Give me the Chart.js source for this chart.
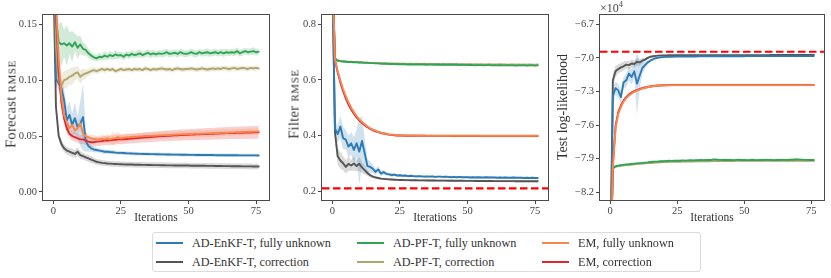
<!DOCTYPE html>
<html>
<head>
<meta charset="utf-8">
<script src="https://cdn.jsdelivr.net/npm/chart.js@4.4.1/dist/chart.umd.min.js"></script>
<style>
html,body{margin:0;padding:0;background:#fff;}
#wrap{position:relative;width:831px;height:278px;overflow:hidden;font-family:'Liberation Serif',serif;}
canvas{position:absolute;top:0;}
.ytitle{position:absolute;white-space:nowrap;transform:translate(-50%,-50%) rotate(-90deg);font-size:14.5px;color:#333;}
.ytitle .sc{font-size:11px;letter-spacing:0.6px;}
#legend{position:absolute;left:152px;top:232px;width:549px;height:40px;border:1px solid #dcdcdc;border-radius:3px;box-sizing:border-box;}
.li{position:absolute;height:2.2px;}
.lt{position:absolute;font-size:12.2px;color:#333;white-space:nowrap;transform:translateY(-50%);}
#sci{position:absolute;left:600px;top:-1px;font-size:12px;color:#444;}
#sci sup{font-size:8.5px;vertical-align:5px;}
</style>
</head>
<body>
<div id="wrap">
<canvas id="c1" width="280" height="225" style="left:0px"></canvas>
<canvas id="c2" width="275" height="225" style="left:280px"></canvas>
<canvas id="c3" width="276" height="225" style="left:555px"></canvas>
<div class="ytitle" style="left:11px;top:104px;letter-spacing:0.3px">Forecast <span class="sc">RMSE</span></div>
<div class="ytitle" style="left:294px;top:104px;letter-spacing:0.3px">Filter <span class="sc">RMSE</span></div>
<div class="ytitle" style="left:563px;top:107px;font-size:14px">Test log-likelihood</div>
<div id="sci">×10<sup>4</sup></div>
<div id="legend"></div>
</div>
<script>
// ---------------- DATA ----------------
const iterations = [0,1,2,3,4,5,6,7,8,9,10,11,12,13,14,15,16,17,18,19,20,21,22,23,24,25,26,27,28,29,30,31,32,33,34,35,36,37,38,39,40,41,42,43,44,45,46,47,48,49,50,51,52,53,54,55,56,57,58,59,60,61,62,63,64,65,66,67,68,69,70,71,72,73,74,75,76];
const seriesNames = ["AD-EnKF-T, fully unknown","AD-EnKF-T, correction","AD-PF-T, fully unknown","AD-PF-T, correction","EM, fully unknown","EM, correction"];
const seriesColors = ["#2c7bb6","#555555","#31a354","#b1a56e","#f6874f","#e3262b"];
const xTicks = [0,25,50,75];
const xTickLabels = ["0","25","50","75"];

// Panel 1: Forecast RMSE
const p1Ticks = [0.00,0.05,0.10,0.15];
const p1TickLabels = ["0.00","0.05","0.10","0.15"];
const p1EnKFFull = [
0.25,0.101,0.097,0.093,0.082,0.064,0.069,0.060,0.066,0.058,
0.061,0.067,0.046,0.041,0.039,0.038,0.0375,0.037,0.0365,0.036,
0.036,0.0357,0.0355,0.0352,0.035,0.035,0.0348,0.0346,0.0345,0.0344,
0.0343,0.0342,0.0341,0.034,0.034,0.0339,0.0338,0.0338,0.0337,0.0337,
0.0336,0.0336,0.0335,0.0335,0.0334,0.0334,0.0334,0.0333,0.0333,0.0333,
0.0332,0.0332,0.0332,0.0331,0.0331,0.0331,0.033,0.033,0.033,0.033,
0.0329,0.0329,0.0329,0.0329,0.0328,0.0328,0.0328,0.0328,0.0328,0.0327,
0.0327,0.0327,0.0327,0.0327,0.0327,0.0327,0.0326];
const p1EnKFFullSd = [
0.02,0.006,0.006,0.008,0.01,0.012,0.012,0.01,0.014,0.01,
0.02,0.03,0.01,0.005,0.003,0.0025,0.002,0.002,0.002,0.002,
0.0018,0.0018,0.0018,0.0018,0.0017,0.0017,0.0017,0.0016,0.0016,0.0016,
0.0016,0.0016,0.0015,0.0015,0.0015,0.0015,0.0015,0.0015,0.0015,0.0015,
0.0015,0.0015,0.0015,0.0015,0.0015,0.0015,0.0015,0.0015,0.0015,0.0015,
0.0015,0.0015,0.0015,0.0015,0.0015,0.0015,0.0015,0.0015,0.0015,0.0015,
0.0015,0.0015,0.0015,0.0015,0.0015,0.0015,0.0015,0.0015,0.0015,0.0015,
0.0015,0.0015,0.0015,0.0015,0.0015,0.0015,0.0015];
const p1EnKFCorr = [
0.20,0.076,0.050,0.043,0.039,0.037,0.036,0.035,0.034,0.036,
0.033,0.032,0.031,0.030,0.029,0.028,0.027,0.0265,0.026,0.0258,
0.0255,0.0253,0.0251,0.025,0.0249,0.0248,0.0247,0.0246,0.0245,0.0245,
0.0244,0.0243,0.0243,0.0242,0.0242,0.0241,0.0241,0.024,0.024,0.024,
0.0239,0.0239,0.0238,0.0238,0.0238,0.0237,0.0237,0.0237,0.0236,0.0236,
0.0236,0.0235,0.0235,0.0235,0.0234,0.0234,0.0234,0.0233,0.0233,0.0233,
0.0232,0.0232,0.0232,0.0231,0.0231,0.0231,0.023,0.023,0.023,0.023,
0.0229,0.0229,0.0229,0.0229,0.0228,0.0228,0.0228];
const p1EnKFCorrSd = [
0.01,0.005,0.004,0.004,0.0035,0.0035,0.0035,0.0035,0.0035,0.004,
0.0035,0.003,0.003,0.003,0.003,0.0028,0.0027,0.0026,0.0025,0.0025,
0.0025,0.0025,0.0025,0.0025,0.0025,0.0025,0.0025,0.0025,0.0025,0.0025,
0.0025,0.0025,0.0025,0.0025,0.0025,0.0025,0.0025,0.0025,0.0025,0.0025,
0.0025,0.0025,0.0025,0.0025,0.0025,0.0025,0.0025,0.0025,0.0025,0.0025,
0.0025,0.0025,0.0025,0.0025,0.0025,0.0025,0.0025,0.0025,0.0025,0.0025,
0.0025,0.0025,0.0025,0.0025,0.0025,0.0025,0.0025,0.0025,0.0025,0.0025,
0.0025,0.0025,0.0025,0.0025,0.0025,0.0025,0.0025];
const p1PFFull = [
0.30,0.155,0.134,0.132,0.133,0.131,0.133,0.130,0.134,0.129,
0.132,0.128,0.127,0.124,0.122,0.1205,0.1195,0.121,0.1205,0.122,
0.121,0.1225,0.1215,0.123,0.122,0.1225,0.121,0.123,0.122,0.1235,
0.1225,0.123,0.124,0.1225,0.1235,0.1245,0.123,0.124,0.123,0.124,
0.1235,0.124,0.125,0.1235,0.124,0.1245,0.1235,0.125,0.124,0.1235,
0.124,0.125,0.124,0.1235,0.125,0.124,0.1245,0.125,0.124,0.1245,
0.125,0.124,0.125,0.124,0.125,0.1245,0.125,0.1245,0.126,0.124,
0.125,0.126,0.125,0.1255,0.126,0.125,0.1255];
const p1PFFullSd = [
0.02,0.02,0.016,0.02,0.012,0.018,0.01,0.014,0.008,0.01,
0.008,0.006,0.005,0.004,0.0035,0.003,0.003,0.0035,0.003,0.004,
0.003,0.0035,0.003,0.004,0.003,0.003,0.0035,0.003,0.003,0.0035,
0.003,0.003,0.0035,0.003,0.003,0.003,0.0035,0.003,0.003,0.003,
0.003,0.0035,0.003,0.003,0.003,0.003,0.0035,0.003,0.003,0.003,
0.003,0.003,0.0035,0.003,0.003,0.003,0.003,0.0035,0.003,0.003,
0.003,0.003,0.003,0.0035,0.003,0.003,0.003,0.003,0.0035,0.003,
0.003,0.003,0.003,0.003,0.0035,0.003,0.003];
const p1PFCorr = [
0.30,0.13,0.099,0.095,0.100,0.101,0.103,0.104,0.106,0.107,
0.103,0.105,0.106,0.107,0.108,0.109,0.108,0.109,0.110,0.109,
0.110,0.109,0.110,0.108,0.109,0.110,0.109,0.1095,0.110,0.109,
0.110,0.1095,0.110,0.109,0.1105,0.110,0.109,0.110,0.1095,0.110,
0.1105,0.110,0.1095,0.110,0.109,0.110,0.1105,0.110,0.1095,0.110,
0.110,0.1105,0.110,0.1095,0.110,0.1105,0.110,0.1095,0.110,0.1105,
0.110,0.1105,0.110,0.111,0.1105,0.110,0.1105,0.111,0.110,0.1105,
0.111,0.1105,0.110,0.111,0.1105,0.111,0.1105];
const p1PFCorrSd = [
0.02,0.012,0.008,0.01,0.008,0.008,0.007,0.008,0.006,0.006,
0.006,0.005,0.004,0.003,0.003,0.0025,0.0025,0.0025,0.0025,0.0025,
0.0022,0.0022,0.0022,0.0022,0.0022,0.0022,0.0022,0.0022,0.0022,0.0022,
0.0022,0.0022,0.0022,0.0022,0.0022,0.0022,0.0022,0.0022,0.0022,0.0022,
0.0022,0.0022,0.0022,0.0022,0.0022,0.0022,0.0022,0.0022,0.0022,0.0022,
0.0022,0.0022,0.0022,0.0022,0.0022,0.0022,0.0022,0.0022,0.0022,0.0022,
0.0022,0.0022,0.0022,0.0022,0.0022,0.0022,0.0022,0.0022,0.0022,0.0022,
0.0022,0.0022,0.0022,0.0022,0.0022,0.0022,0.0022];
const p1EMFull = [
0.35,0.17,0.12,0.086,0.069,0.062,0.057,0.060,0.055,0.057,
0.061,0.052,0.050,0.049,0.048,0.0475,0.047,0.047,0.0475,0.047,
0.048,0.047,0.0478,0.0482,0.049,0.048,0.0485,0.0488,0.049,0.0492,
0.0494,0.0495,0.0497,0.0498,0.05,0.05,0.0502,0.0503,0.0505,0.0506,
0.0507,0.0508,0.051,0.051,0.0512,0.0513,0.0514,0.0515,0.0516,0.0517,
0.0518,0.0519,0.052,0.052,0.0521,0.0522,0.0523,0.0524,0.0525,0.0526,
0.0527,0.0528,0.0529,0.053,0.053,0.0531,0.0532,0.0533,0.0534,0.0535,
0.0536,0.0537,0.0538,0.0539,0.054,0.054,0.0541];
const p1EMFullSd = [
0.02,0.01,0.01,0.008,0.006,0.005,0.004,0.006,0.004,0.005,
0.006,0.004,0.003,0.003,0.003,0.004,0.003,0.003,0.004,0.003,
0.004,0.003,0.006,0.004,0.005,0.003,0.003,0.004,0.003,0.003,
0.003,0.003,0.003,0.003,0.003,0.003,0.003,0.003,0.003,0.003,
0.003,0.003,0.003,0.003,0.003,0.003,0.003,0.003,0.003,0.003,
0.003,0.003,0.003,0.003,0.003,0.003,0.003,0.003,0.003,0.003,
0.003,0.003,0.003,0.003,0.003,0.003,0.003,0.003,0.003,0.003,
0.003,0.003,0.003,0.003,0.003,0.003,0.003];
const p1EMCorr = [
0.35,0.16,0.108,0.08,0.066,0.057,0.052,0.050,0.049,0.048,
0.047,0.047,0.046,0.045,0.0445,0.0445,0.045,0.0452,0.0455,0.046,
0.046,0.0462,0.0465,0.0467,0.047,0.047,0.0472,0.0474,0.0476,0.0478,
0.048,0.0482,0.0484,0.0486,0.0488,0.049,0.0492,0.0494,0.0495,0.0497,
0.0499,0.05,0.0502,0.0503,0.0505,0.0506,0.0507,0.0509,0.051,0.0511,
0.0512,0.0513,0.0514,0.0515,0.0516,0.0517,0.0518,0.0519,0.052,0.0521,
0.0522,0.0523,0.0524,0.0525,0.0526,0.0527,0.0528,0.0528,0.0529,0.053,
0.053,0.0531,0.0532,0.0532,0.0533,0.0534,0.0534];
const p1EMCorrSd = [
0.02,0.01,0.008,0.006,0.005,0.004,0.004,0.004,0.004,0.004,
0.004,0.004,0.004,0.004,0.004,0.004,0.004,0.004,0.004,0.004,
0.0042,0.0042,0.0042,0.0042,0.0042,0.0043,0.0043,0.0043,0.0043,0.0043,
0.0044,0.0044,0.0044,0.0044,0.0045,0.0045,0.0045,0.0045,0.0046,0.0046,
0.0046,0.0047,0.0047,0.0047,0.0048,0.0048,0.0048,0.0049,0.0049,0.0049,
0.005,0.005,0.005,0.005,0.0051,0.0051,0.0051,0.0052,0.0052,0.0052,
0.0053,0.0053,0.0053,0.0054,0.0054,0.0054,0.0055,0.0055,0.0055,0.0055,
0.0056,0.0056,0.0056,0.0056,0.0057,0.0057,0.0057];

// Panel 2: Filter RMSE
const p2Ticks = [0.2,0.4,0.6,0.8];
const p2TickLabels = ["0.2","0.4","0.6","0.8"];
const p2Reference = 0.21;
const p2EnKFFull = [
1.0,0.425,0.405,0.432,0.39,0.385,0.36,0.372,0.348,0.372,
0.342,0.38,0.336,0.29,0.287,0.28,0.269,0.278,0.263,0.268,
0.262,0.26,0.258,0.259,0.256,0.257,0.255,0.256,0.254,0.255,
0.254,0.253,0.254,0.253,0.252,0.253,0.252,0.253,0.251,0.252,
0.252,0.251,0.252,0.251,0.25,0.251,0.25,0.251,0.25,0.25,
0.25,0.249,0.25,0.249,0.25,0.249,0.249,0.25,0.249,0.249,
0.249,0.248,0.249,0.248,0.249,0.248,0.248,0.249,0.248,0.248,
0.248,0.247,0.248,0.247,0.248,0.247,0.247];
const p2EnKFFullSd = [
0.05,0.03,0.03,0.04,0.04,0.035,0.04,0.04,0.045,0.05,
0.12,0.09,0.05,0.025,0.02,0.015,0.012,0.012,0.01,0.008,
0.006,0.006,0.006,0.006,0.005,0.005,0.005,0.005,0.005,0.005,
0.005,0.005,0.005,0.005,0.005,0.004,0.004,0.004,0.004,0.004,
0.004,0.004,0.004,0.004,0.004,0.004,0.004,0.004,0.004,0.004,
0.004,0.004,0.004,0.004,0.004,0.004,0.004,0.004,0.004,0.004,
0.004,0.004,0.004,0.004,0.004,0.004,0.004,0.004,0.004,0.004,
0.004,0.004,0.004,0.004,0.004,0.004,0.004];
const p2EnKFCorr = [
1.0,0.41,0.325,0.31,0.30,0.287,0.298,0.292,0.299,0.29,
0.298,0.285,0.275,0.265,0.257,0.252,0.249,0.247,0.245,0.244,
0.243,0.242,0.2415,0.241,0.2405,0.24,0.24,0.2395,0.2395,0.239,
0.239,0.2388,0.2386,0.2385,0.2384,0.2383,0.2382,0.238,0.238,0.2378,
0.2377,0.2376,0.2375,0.2374,0.2373,0.2372,0.2371,0.237,0.237,0.2369,
0.2368,0.2367,0.2366,0.2365,0.2365,0.2364,0.2363,0.2362,0.2362,0.2361,
0.236,0.236,0.2359,0.2359,0.2358,0.2358,0.2357,0.2357,0.2356,0.2356,
0.2355,0.2355,0.2355,0.2354,0.2354,0.2354,0.2353];
const p2EnKFCorrSd = [
0.04,0.03,0.03,0.03,0.025,0.025,0.025,0.02,0.025,0.02,
0.025,0.02,0.015,0.01,0.008,0.006,0.005,0.005,0.004,0.004,
0.004,0.004,0.004,0.004,0.004,0.004,0.004,0.004,0.004,0.004,
0.004,0.004,0.004,0.004,0.004,0.004,0.004,0.004,0.004,0.004,
0.004,0.004,0.004,0.004,0.004,0.004,0.004,0.004,0.004,0.004,
0.004,0.004,0.004,0.004,0.004,0.004,0.004,0.004,0.004,0.004,
0.004,0.004,0.004,0.004,0.004,0.004,0.004,0.004,0.004,0.004,
0.004,0.004,0.004,0.004,0.004,0.004,0.004];
const p2PFFull = [
1.0,0.676,0.669,0.667,0.666,0.665,0.664,0.664,0.663,0.663,
0.662,0.662,0.661,0.661,0.66,0.66,0.659,0.659,0.658,0.658,
0.658,0.657,0.657,0.657,0.656,0.656,0.656,0.656,0.655,0.656,
0.655,0.655,0.656,0.655,0.655,0.654,0.655,0.655,0.654,0.655,
0.654,0.655,0.654,0.654,0.655,0.654,0.654,0.653,0.654,0.654,
0.653,0.654,0.653,0.652,0.653,0.653,0.652,0.653,0.653,0.652,
0.653,0.652,0.653,0.652,0.652,0.653,0.652,0.652,0.651,0.652,
0.652,0.652,0.651,0.652,0.652,0.651,0.652];
const p2PFFullSd = [
0.01,0.005,0.004,0.004,0.003,0.003,0.003,0.003,0.003,0.003,
0.003,0.003,0.003,0.003,0.003,0.003,0.003,0.003,0.003,0.003,
0.003,0.003,0.003,0.003,0.003,0.003,0.003,0.003,0.003,0.003,
0.003,0.003,0.003,0.003,0.003,0.003,0.003,0.003,0.003,0.003,
0.003,0.003,0.003,0.003,0.003,0.003,0.003,0.003,0.003,0.003,
0.003,0.003,0.003,0.003,0.003,0.003,0.003,0.003,0.003,0.003,
0.003,0.003,0.003,0.003,0.003,0.003,0.003,0.003,0.003,0.003,
0.003,0.003,0.003,0.003,0.003,0.003,0.003];
const p2PFCorr = [
1.0,0.677,0.670,0.668,0.667,0.666,0.665,0.665,0.664,0.664,
0.663,0.663,0.662,0.662,0.661,0.661,0.661,0.66,0.66,0.66,
0.659,0.659,0.659,0.658,0.659,0.658,0.658,0.658,0.657,0.658,
0.657,0.658,0.657,0.657,0.658,0.657,0.657,0.656,0.657,0.657,
0.656,0.657,0.656,0.657,0.656,0.656,0.657,0.656,0.656,0.655,
0.656,0.656,0.655,0.656,0.655,0.656,0.655,0.655,0.656,0.655,
0.655,0.655,0.656,0.655,0.655,0.654,0.655,0.655,0.654,0.655,
0.654,0.655,0.654,0.655,0.654,0.654,0.655];
const p2PFCorrSd = p2PFFullSd;
const p2EMFull = [
1.0,0.672,0.632,0.597,0.567,0.541,0.519,0.5,0.484,0.47,
0.458,0.448,0.44,0.432,0.426,0.421,0.417,0.413,0.41,0.408,
0.406,0.404,0.403,0.402,0.401,0.4,0.4,0.4,0.3995,0.3995,
0.3995,0.399,0.3995,0.399,0.399,0.3995,0.399,0.399,0.399,0.3995,
0.399,0.399,0.399,0.399,0.3995,0.399,0.399,0.399,0.399,0.399,
0.3995,0.399,0.399,0.399,0.399,0.399,0.3995,0.399,0.399,0.399,
0.399,0.399,0.399,0.3995,0.399,0.399,0.399,0.399,0.399,0.399,
0.3995,0.399,0.399,0.399,0.399,0.399,0.399];
const p2EMFullSd = [
0.01,0.004,0.004,0.004,0.004,0.004,0.004,0.004,0.004,0.004,
0.004,0.004,0.004,0.004,0.004,0.004,0.004,0.004,0.004,0.004,
0.004,0.004,0.004,0.004,0.004,0.004,0.004,0.004,0.004,0.004,
0.004,0.004,0.004,0.004,0.004,0.004,0.004,0.004,0.004,0.004,
0.004,0.004,0.004,0.004,0.004,0.004,0.004,0.004,0.004,0.004,
0.004,0.004,0.004,0.004,0.004,0.004,0.004,0.004,0.004,0.004,
0.004,0.004,0.004,0.004,0.004,0.004,0.004,0.004,0.004,0.004,
0.004,0.004,0.004,0.004,0.004,0.004,0.004];
const p2EMCorr = [
1.0,0.672,0.626,0.59,0.559,0.533,0.511,0.493,0.478,0.465,
0.454,0.445,0.437,0.43,0.424,0.419,0.415,0.412,0.409,0.407,
0.405,0.403,0.402,0.401,0.4,0.4,0.3995,0.399,0.399,0.399,
0.399,0.399,0.3988,0.3988,0.3988,0.3986,0.3986,0.3986,0.3985,0.3985,
0.3985,0.3984,0.3984,0.3984,0.3983,0.3983,0.3983,0.3982,0.3982,0.3982,
0.3982,0.3981,0.3981,0.3981,0.3981,0.398,0.398,0.398,0.398,0.398,
0.398,0.398,0.398,0.398,0.398,0.398,0.398,0.398,0.398,0.398,
0.398,0.398,0.398,0.398,0.398,0.398,0.398];
const p2EMCorrSd = p2EMFullSd;

// Panel 3: Test log-likelihood (units of 1e4)
const p3Ticks = [-8.2,-7.9,-7.6,-7.3,-7.0,-6.7];
const p3TickLabels = ["\u22128.2","\u22127.9","\u22127.6","\u22127.3","\u22127.0","\u22126.7"];
const p3Reference = -6.945;
const p3EnKFFull = [
-9.0,-7.34,-7.27,-7.29,-7.35,-7.22,-7.2,-7.14,-7.17,-7.12,
-7.23,-7.16,-7.09,-7.065,-7.04,-7.025,-7.012,-7.003,-6.998,-6.995,
-6.993,-6.991,-6.99,-6.99,-6.989,-6.989,-6.988,-6.988,-6.988,-6.987,
-6.987,-6.987,-6.987,-6.986,-6.986,-6.986,-6.986,-6.986,-6.986,-6.985,
-6.985,-6.985,-6.985,-6.985,-6.985,-6.985,-6.985,-6.985,-6.985,-6.985,
-6.985,-6.984,-6.984,-6.984,-6.984,-6.984,-6.984,-6.984,-6.984,-6.984,
-6.984,-6.984,-6.984,-6.984,-6.984,-6.984,-6.984,-6.984,-6.984,-6.984,
-6.984,-6.984,-6.984,-6.984,-6.984,-6.984,-6.984];
const p3EnKFFullSd = [
0.2,0.08,0.06,0.06,0.06,0.05,0.06,0.06,0.07,0.06,
0.28,0.12,0.05,0.03,0.02,0.015,0.012,0.01,0.008,0.006,
0.005,0.005,0.005,0.005,0.005,0.005,0.005,0.005,0.005,0.005,
0.005,0.005,0.005,0.005,0.005,0.005,0.005,0.005,0.005,0.005,
0.005,0.005,0.005,0.005,0.005,0.005,0.005,0.005,0.005,0.005,
0.005,0.005,0.005,0.005,0.005,0.005,0.005,0.005,0.005,0.005,
0.005,0.005,0.005,0.005,0.005,0.005,0.005,0.005,0.005,0.005,
0.005,0.005,0.005,0.005,0.005,0.005,0.005];
const p3EnKFCorr = [
-9.0,-7.2,-7.12,-7.1,-7.085,-7.075,-7.06,-7.065,-7.05,-7.055,
-7.035,-7.04,-7.025,-7.015,-7.0,-6.99,-6.985,-6.982,-6.98,-6.979,
-6.978,-6.978,-6.977,-6.977,-6.977,-6.976,-6.976,-6.976,-6.976,-6.976,
-6.976,-6.976,-6.975,-6.975,-6.975,-6.975,-6.975,-6.975,-6.975,-6.975,
-6.975,-6.975,-6.975,-6.975,-6.975,-6.975,-6.975,-6.975,-6.975,-6.975,
-6.975,-6.975,-6.975,-6.975,-6.975,-6.975,-6.975,-6.975,-6.975,-6.975,
-6.974,-6.974,-6.974,-6.974,-6.974,-6.974,-6.974,-6.974,-6.974,-6.974,
-6.974,-6.974,-6.974,-6.974,-6.974,-6.974,-6.974];
const p3EnKFCorrSd = [
0.1,0.05,0.05,0.04,0.04,0.04,0.035,0.035,0.035,0.03,
0.035,0.03,0.025,0.015,0.01,0.006,0.005,0.004,0.004,0.004,
0.004,0.004,0.004,0.004,0.004,0.004,0.004,0.004,0.004,0.004,
0.004,0.004,0.004,0.004,0.004,0.004,0.004,0.004,0.004,0.004,
0.004,0.004,0.004,0.004,0.004,0.004,0.004,0.004,0.004,0.004,
0.004,0.004,0.004,0.004,0.004,0.004,0.004,0.004,0.004,0.004,
0.004,0.004,0.004,0.004,0.004,0.004,0.004,0.004,0.004,0.004,
0.004,0.004,0.004,0.004,0.004,0.004,0.004];
const p3PFFull = [
-9.0,-7.985,-7.968,-7.963,-7.958,-7.955,-7.952,-7.95,-7.947,-7.944,
-7.942,-7.94,-7.938,-7.935,-7.933,-7.93,-7.928,-7.926,-7.925,-7.923,
-7.922,-7.92,-7.919,-7.92,-7.918,-7.917,-7.918,-7.916,-7.917,-7.915,
-7.914,-7.915,-7.913,-7.914,-7.912,-7.913,-7.911,-7.912,-7.91,-7.906,
-7.909,-7.911,-7.912,-7.91,-7.912,-7.911,-7.913,-7.911,-7.91,-7.912,
-7.911,-7.913,-7.912,-7.91,-7.912,-7.913,-7.911,-7.912,-7.91,-7.911,
-7.912,-7.913,-7.911,-7.912,-7.91,-7.911,-7.912,-7.91,-7.909,-7.907,
-7.906,-7.908,-7.91,-7.911,-7.912,-7.911,-7.912];
const p3PFFullSd = [
0.02,0.008,0.008,0.008,0.008,0.008,0.008,0.008,0.008,0.008,
0.008,0.008,0.008,0.008,0.008,0.008,0.008,0.008,0.008,0.008,
0.008,0.008,0.008,0.008,0.008,0.008,0.008,0.008,0.008,0.008,
0.008,0.008,0.008,0.008,0.008,0.008,0.008,0.008,0.008,0.008,
0.008,0.008,0.008,0.008,0.008,0.008,0.008,0.008,0.008,0.008,
0.008,0.008,0.008,0.008,0.008,0.008,0.008,0.008,0.008,0.008,
0.008,0.008,0.008,0.008,0.008,0.008,0.008,0.008,0.008,0.008,
0.008,0.008,0.008,0.008,0.008,0.008,0.008];
const p3PFCorr = [
-9.0,-7.988,-7.972,-7.967,-7.963,-7.96,-7.957,-7.955,-7.952,-7.95,
-7.948,-7.946,-7.944,-7.942,-7.94,-7.938,-7.936,-7.935,-7.933,-7.932,
-7.931,-7.93,-7.929,-7.929,-7.928,-7.927,-7.927,-7.926,-7.926,-7.925,
-7.925,-7.925,-7.924,-7.924,-7.924,-7.923,-7.923,-7.923,-7.922,-7.922,
-7.922,-7.922,-7.921,-7.921,-7.921,-7.921,-7.921,-7.92,-7.92,-7.92,
-7.92,-7.92,-7.92,-7.92,-7.919,-7.919,-7.919,-7.919,-7.919,-7.919,
-7.919,-7.919,-7.918,-7.918,-7.918,-7.918,-7.918,-7.918,-7.918,-7.918,
-7.918,-7.918,-7.918,-7.918,-7.918,-7.918,-7.918];
const p3PFCorrSd = p3PFFullSd;
const p3EMFull = [
-9.0,-7.97,-7.63,-7.5,-7.44,-7.39,-7.36,-7.335,-7.318,-7.304,
-7.293,-7.283,-7.275,-7.268,-7.262,-7.257,-7.253,-7.25,-7.248,-7.246,
-7.245,-7.244,-7.244,-7.243,-7.243,-7.243,-7.243,-7.243,-7.243,-7.243,
-7.243,-7.243,-7.243,-7.243,-7.243,-7.243,-7.243,-7.243,-7.243,-7.243,
-7.243,-7.243,-7.243,-7.243,-7.243,-7.243,-7.243,-7.243,-7.243,-7.243,
-7.243,-7.243,-7.243,-7.243,-7.243,-7.243,-7.243,-7.243,-7.243,-7.243,
-7.243,-7.243,-7.243,-7.243,-7.243,-7.243,-7.243,-7.243,-7.243,-7.243,
-7.243,-7.243,-7.243,-7.243,-7.243,-7.243,-7.243];
const p3EMFullSd = [
0.02,0.01,0.01,0.01,0.01,0.01,0.01,0.01,0.01,0.01,
0.01,0.01,0.01,0.01,0.01,0.01,0.01,0.01,0.01,0.01,
0.01,0.01,0.01,0.01,0.01,0.01,0.01,0.01,0.01,0.01,
0.01,0.01,0.01,0.01,0.01,0.01,0.01,0.01,0.01,0.01,
0.01,0.01,0.01,0.01,0.01,0.01,0.01,0.01,0.01,0.01,
0.01,0.01,0.01,0.01,0.01,0.01,0.01,0.01,0.01,0.01,
0.01,0.01,0.01,0.01,0.01,0.01,0.01,0.01,0.01,0.01,
0.01,0.01,0.01,0.01,0.01,0.01,0.01];
const p3EMCorr = [
-9.0,-7.96,-7.61,-7.485,-7.425,-7.38,-7.35,-7.327,-7.31,-7.297,
-7.287,-7.278,-7.27,-7.264,-7.259,-7.255,-7.251,-7.249,-7.247,-7.245,
-7.244,-7.243,-7.243,-7.242,-7.242,-7.242,-7.242,-7.242,-7.242,-7.242,
-7.242,-7.242,-7.242,-7.242,-7.242,-7.242,-7.242,-7.242,-7.242,-7.242,
-7.242,-7.242,-7.242,-7.242,-7.242,-7.242,-7.242,-7.242,-7.242,-7.242,
-7.242,-7.242,-7.242,-7.242,-7.242,-7.242,-7.242,-7.242,-7.242,-7.242,
-7.242,-7.242,-7.242,-7.242,-7.242,-7.242,-7.242,-7.242,-7.242,-7.242,
-7.242,-7.242,-7.242,-7.242,-7.242,-7.242,-7.242];
const p3EMCorrSd = p3EMFullSd;

// ---------------- RENDERING ----------------
const FONT = "'Liberation Serif', 'Times New Roman', serif";
Chart.defaults.font.family = FONT;
Chart.defaults.color = '#444';

function rgba(hex, a){
  const n = parseInt(hex.slice(1),16);
  return 'rgba('+((n>>16)&255)+','+((n>>8)&255)+','+(n&255)+','+a+')';
}

const frame = {
  id:'frame',
  afterDraw(chart){
    const {ctx, chartArea:a} = chart;
    ctx.save();
    ctx.strokeStyle = '#4a4a4a';
    ctx.lineWidth = 1;
    const l = Math.round(a.left)-0.5, t = Math.round(a.top)-0.5;
    const r = Math.round(a.right)+0.5, b = Math.round(a.bottom)+0.5;
    ctx.strokeRect(l, t, r-l, b-t);
    ctx.restore();
  }
};

// drawing order of lines (lower = drawn on top): "fully unknown" above "correction"
const lineOrder = [7,8,4,5,2,3];

function buildDatasets(values, sds, ref, xMin, xMax){
  const ds = [];
  values.forEach((vals, k) => {
    const col = seriesColors[k];
    const sd = sds[k];
    ds.push({data: vals.map((v,i)=>({x:iterations[i], y:v+sd[i]})), borderWidth:0, borderColor:'rgba(0,0,0,0)', pointRadius:0, fill:false, order:100+k});
    ds.push({data: vals.map((v,i)=>({x:iterations[i], y:v-sd[i]})), borderWidth:0, borderColor:'rgba(0,0,0,0)', pointRadius:0, fill:'-1', backgroundColor: rgba(col,0.22), order:100+k});
  });
  values.forEach((vals, k) => {
    ds.push({label: seriesNames[k], data: vals.map((v,i)=>({x:iterations[i], y:v})), borderColor: seriesColors[k], borderWidth:1.9, pointRadius:0, fill:false, order:lineOrder[k], borderJoinStyle:'round', borderCapStyle:'round'});
  });
  if (ref !== null){
    ds.push({data:[{x:xMin,y:ref},{x:xMax,y:ref}], borderColor:'#ff0000', borderWidth:2.2, borderDash:[7.5,3.5], pointRadius:0, fill:false, order:0});
  }
  return ds;
}

function makeChart(id, cfg){
  const xMin = -3.8, xMax = 79.8;
  new Chart(document.getElementById(id), {
    type:'line',
    data:{datasets: buildDatasets(cfg.values, cfg.sds, cfg.ref, xMin, xMax)},
    options:{
      responsive:false, animation:false, devicePixelRatio:1,
      layout:{padding:{left:0, top:15, right:cfg.padRight, bottom:0}},
      plugins:{legend:{display:false}, tooltip:{enabled:false}},
      elements:{line:{tension:0}},
      scales:{
        x:{
          type:'linear', min:xMin, max:xMax,
          afterBuildTicks: s => { s.ticks = xTicks.map(v=>({value:v})); },
          afterFit: s => { s.height = 25; },
          grid:{display:true, drawOnChartArea:false, drawTicks:true, tickLength:4, color:'#4a4a4a', lineWidth:1},
          border:{display:false},
          ticks:{padding:1, color:'#444', font:{family:FONT, size:10.5}, maxRotation:0, callback:(v,i)=>xTickLabels[i]},
          title:{display:true, text:'Iterations', font:{family:FONT, size:11.5}, color:'#333', padding:{top:0,bottom:0}}
        },
        y:{
          type:'linear', min:cfg.yMin, max:cfg.yMax,
          afterBuildTicks: s => { s.ticks = cfg.ticks.map(v=>({value:v})); },
          afterFit: s => { s.width = cfg.yWidth; },
          grid:{display:true, drawOnChartArea:false, drawTicks:true, tickLength:4, color:'#4a4a4a', lineWidth:1},
          border:{display:false},
          ticks:{padding:2, color:'#444', font:{family:FONT, size:10.5}, callback:(v,i)=>cfg.labels[i]}
        }
      }
    },
    plugins:[frame]
  });
}

makeChart('c1', {
  values:[p1EnKFFull,p1EnKFCorr,p1PFFull,p1PFCorr,p1EMFull,p1EMCorr],
  sds:[p1EnKFFullSd,p1EnKFCorrSd,p1PFFullSd,p1PFCorrSd,p1EMFullSd,p1EMCorrSd],
  ref:null, yMin:-0.0072, yMax:0.1583, ticks:p1Ticks, labels:p1TickLabels, yWidth:43, padRight:11
});
makeChart('c2', {
  values:[p2EnKFFull,p2EnKFCorr,p2PFFull,p2PFCorr,p2EMFull,p2EMCorr],
  sds:[p2EnKFFullSd,p2EnKFCorrSd,p2PFFullSd,p2PFCorrSd,p2EMFullSd,p2EMCorrSd],
  ref:p2Reference, yMin:0.168, yMax:0.833, ticks:p2Ticks, labels:p2TickLabels, yWidth:42, padRight:7
});
makeChart('c3', {
  values:[p3EnKFFull,p3EnKFCorr,p3PFFull,p3PFCorr,p3EMFull,p3EMCorr],
  sds:[p3EnKFFullSd,p3EnKFCorrSd,p3PFFullSd,p3PFCorrSd,p3EMFullSd,p3EMCorrSd],
  ref:p3Reference, yMin:-8.269, yMax:-6.617, ticks:p3Ticks, labels:p3TickLabels, yWidth:45, padRight:7
});

// Legend (3 columns x 2 rows, column-major as in the reference)
const legend = document.getElementById('legend');
const colX = [3, 204, 389];
const rowY = [9.7, 29];
seriesNames.forEach((name, k) => {
  const c = Math.floor(k/2), r = k%2;
  const line = document.createElement('div');
  line.className = 'li';
  line.style.left = colX[c]+'px';
  line.style.top = (rowY[r]-1.1)+'px';
  line.style.width = '27px';
  line.style.background = seriesColors[k];
  legend.appendChild(line);
  const t = document.createElement('div');
  t.className = 'lt';
  t.style.left = (colX[c]+36)+'px';
  t.style.top = rowY[r]+'px';
  t.textContent = name;
  legend.appendChild(t);
});
</script>
</body>
</html>
